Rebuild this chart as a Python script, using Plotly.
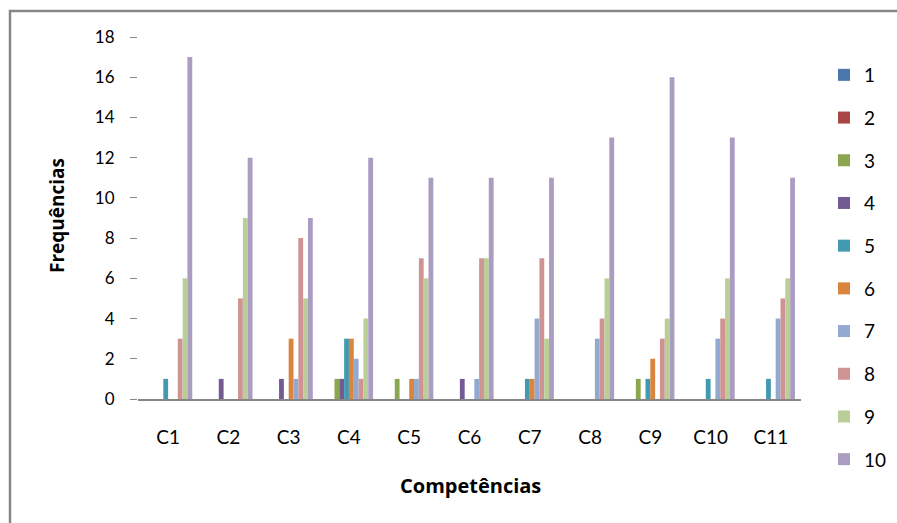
import plotly.graph_objects as go

categories = ["C1", "C2", "C3", "C4", "C5", "C6", "C7", "C8", "C9", "C10", "C11"]
series_names = ["1", "2", "3", "4", "5", "6", "7", "8", "9", "10"]
s1 = [0, 0, 0, 0, 0, 0, 0, 0, 0, 0, 0]
s2 = [0, 0, 0, 0, 0, 0, 0, 0, 0, 0, 0]
s3 = [0, 0, 0, 1, 1, 0, 0, 0, 1, 0, 0]
s4 = [0, 1, 1, 1, 0, 1, 0, 0, 0, 0, 0]
s5 = [1, 0, 0, 3, 0, 0, 1, 0, 1, 1, 1]
s6 = [0, 0, 3, 3, 1, 0, 1, 0, 2, 0, 0]
s7 = [0, 0, 1, 2, 1, 1, 4, 3, 0, 3, 4]
s8 = [3, 5, 8, 1, 7, 7, 7, 4, 3, 4, 5]
s9 = [6, 9, 5, 4, 6, 7, 3, 6, 4, 6, 6]
s10 = [17, 12, 9, 12, 11, 11, 11, 13, 16, 13, 11]
series_values = [s1, s2, s3, s4, s5, s6, s7, s8, s9, s10]
colors = ["#4A76AC", "#A84645", "#8AA64E", "#735A93", "#4399B0",
          "#DA843C", "#93A9D0", "#D09393", "#BACF97", "#AA9DC1"]
y_ticks = [0, 2, 4, 6, 8, 10, 12, 14, 16, 18]

FONT = "Lato"

fig = go.Figure()
for name, vals, col in zip(series_names, series_values, colors):
    fig.add_trace(go.Bar(x=categories, y=vals, name=name, marker_color=col,
                         marker_line_width=0, legendgroup=name))

W, H = 897, 523
L, R, T, B = 138, 96, 37, 124
pw, ph = W - L - R, H - T - B

def px(x):
    return (x - L) / pw

def py(y):
    return (H - B - y) / ph

fig.update_layout(
    width=W, height=H,
    margin=dict(l=L, r=R, t=T, b=B, autoexpand=False),
    paper_bgcolor="white", plot_bgcolor="white",
    barmode="group", bargap=0.2, bargroupgap=0,
    font=dict(family=FONT, size=16, color="#000000"),
    showlegend=True,
    legend=dict(x=px(824), y=py(56), xanchor="left", yanchor="top",
                tracegroupgap=15, font=dict(size=19, family=FONT),
                maxheight=480,
                bgcolor="rgba(0,0,0,0)", borderwidth=0),
    xaxis=dict(showgrid=False, showline=True, linecolor="#868686", linewidth=1.5,
               ticks="", tickfont=dict(size=19, family=FONT),
               ticklabelstandoff=20, zeroline=False),
    yaxis=dict(range=[0, 18], tickvals=y_ticks, showgrid=False, showline=False,
               ticks="outside", ticklen=7, tickcolor="#868686", tickwidth=1,
               tickfont=dict(size=17, family=FONT), ticklabelstandoff=12,
               zeroline=False),
    shapes=[dict(type="rect", xref="paper", yref="paper",
                 x0=px(10), x1=px(905), y0=py(530), y1=py(11),
                 line=dict(color="#878787", width=2.5), fillcolor="rgba(0,0,0,0)",
                 layer="below")],
    annotations=[
        dict(text="<b>Competências</b>", xref="paper", yref="paper",
             x=px(470), y=py(485), xanchor="center", yanchor="middle",
             showarrow=False, font=dict(size=20, family="Open Sans")),
        dict(text="<b>Frequências</b>", xref="paper", yref="paper",
             x=px(57), y=py(216), xanchor="center", yanchor="middle",
             showarrow=False, textangle=-90, font=dict(size=19, family="Open Sans")),
    ],
)

fig.write_html("out.html",
               config={"displayModeBar": False},
               post_script="document.body.style.margin='0';document.body.style.padding='0';")
